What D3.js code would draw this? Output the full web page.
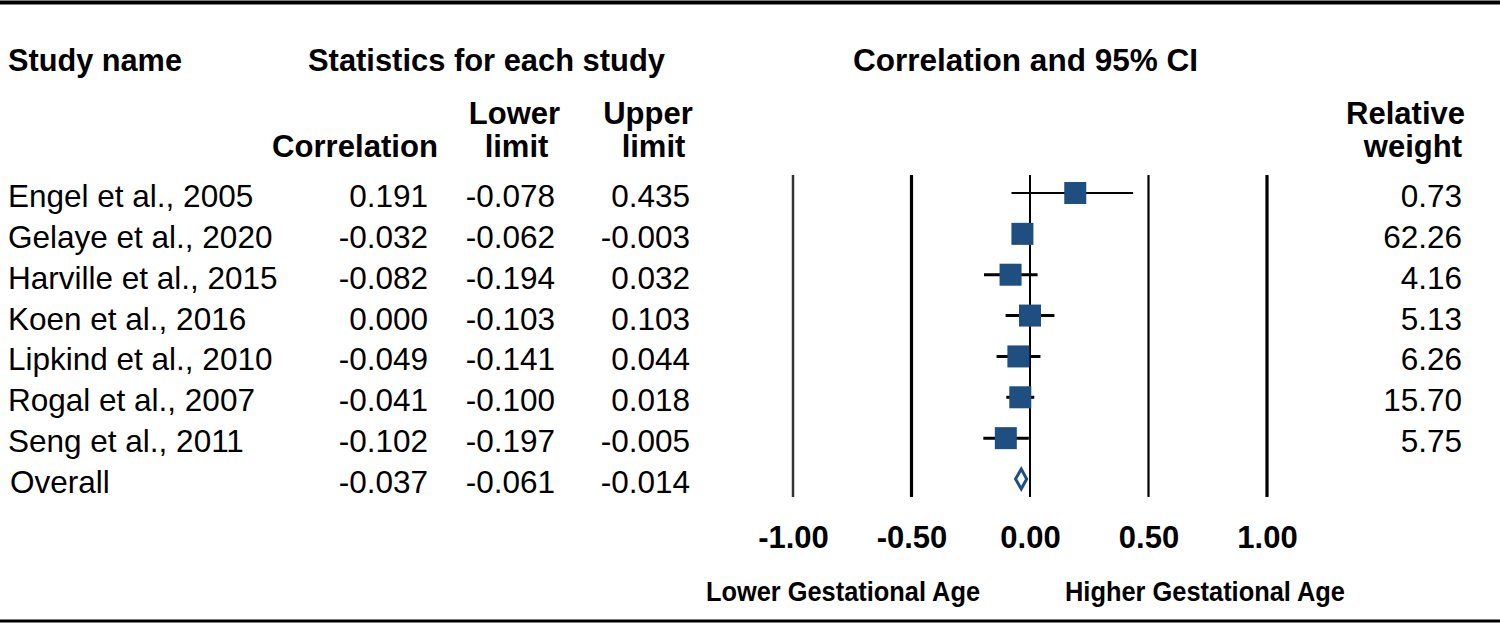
<!DOCTYPE html>
<html>
<head>
<meta charset="utf-8">
<script src="https://cdn.jsdelivr.net/npm/d3@7/dist/d3.min.js"></script>
<style>
  html, body { margin: 0; padding: 0; background: #fff; }
  svg { display: block; font-family: "Liberation Sans", Arial, sans-serif; }
</style>
</head>
<body>
<script>
// ---- Data ----
const studies = ["Engel et al., 2005", "Gelaye et al., 2020", "Harville et al., 2015", "Koen et al., 2016",
                 "Lipkind et al., 2010", "Rogal et al., 2007", "Seng et al., 2011"];
const correlation = [0.191, -0.032, -0.082, 0.000, -0.049, -0.041, -0.102];
const lowerLimit  = [-0.078, -0.062, -0.194, -0.103, -0.141, -0.100, -0.197];
const upperLimit  = [0.435, -0.003, 0.032, 0.103, 0.044, 0.018, -0.005];
const relWeight   = [0.73, 62.26, 4.16, 5.13, 6.26, 15.70, 5.75];
const overallLabel = "Overall";
const overallValues = [-0.037, -0.061, -0.014]; // correlation, lower, upper
const tickValues = [-1.00, -0.50, 0.00, 0.50, 1.00];
const axisLeftLabel = "Lower Gestational Age";
const axisRightLabel = "Higher Gestational Age";

// ---- Layout ----
const W = 1500, H = 625;
const svg = d3.select("body").append("svg").attr("width", W).attr("height", H);
const FS = 31.5;
const blue = "#1f4f80";

const x = d3.scaleLinear().domain([-1, 1]).range([793, 1267]);
const y = d3.scaleLinear().domain([0, 7]).range([193, 479]);

const hy = s => s.replace(/\u2212/g, "-");
const fmt3 = v => hy(d3.format(".3f")(v));
const fmt2 = v => hy(d3.format(".2f")(v));

// rules
svg.append("line").attr("x1", 0).attr("x2", W).attr("y1", 2.5).attr("y2", 2.5)
  .attr("stroke", "#000").attr("stroke-width", 4);
svg.append("line").attr("x1", 0).attr("x2", W).attr("y1", 621).attr("y2", 621)
  .attr("stroke", "#000").attr("stroke-width", 3);

// headers
function txt(t, xx, yy, opts = {}) {
  const el = svg.append("text").attr("x", xx).attr("y", yy).text(t)
    .attr("font-size", opts.size || FS)
    .attr("font-weight", opts.bold ? "bold" : "normal")
    .attr("text-anchor", opts.anchor || "start")
    .attr("fill", "#000");
  if (opts.len) el.attr("textLength", opts.len).attr("lengthAdjust", "spacingAndGlyphs");
  return el;
}
txt("Study name", 8, 71, {bold: true, size: 31, len: 174});
txt("Statistics for each study", 308, 71, {bold: true, size: 31, len: 357});
txt("Correlation and 95%  CI", 853, 71, {bold: true, size: 31, len: 345});
txt("Correlation", 272, 157, {bold: true, size: 31, len: 166});
txt("Lower", 514.5, 124, {bold: true, size: 31, anchor: "middle"});
txt("limit", 516.5, 157, {bold: true, size: 31, anchor: "middle"});
txt("Upper", 648, 124, {bold: true, size: 31, anchor: "middle"});
txt("limit", 653.5, 157, {bold: true, size: 31, anchor: "middle"});
txt("Relative", 1465, 124, {bold: true, size: 31, anchor: "end"});
txt("weight", 1462, 157, {bold: true, size: 31, anchor: "end"});

// rows
const rows = studies.map((s, i) => ({name: s, r: correlation[i], lo: lowerLimit[i], hi: upperLimit[i], w: relWeight[i], i}));

const rowG = svg.append("g").selectAll("g").data(rows).join("g");
rowG.append("text").attr("x", 8).attr("y", d => y(d.i) + 14).attr("font-size", FS).text(d => d.name);
rowG.append("text").attr("x", 428).attr("y", d => y(d.i) + 14).attr("font-size", FS).attr("text-anchor", "end").text(d => fmt3(d.r));
rowG.append("text").attr("x", 555).attr("y", d => y(d.i) + 14).attr("font-size", FS).attr("text-anchor", "end").text(d => fmt3(d.lo));
rowG.append("text").attr("x", 690).attr("y", d => y(d.i) + 14).attr("font-size", FS).attr("text-anchor", "end").text(d => fmt3(d.hi));
rowG.append("text").attr("x", 1462).attr("y", d => y(d.i) + 14).attr("font-size", FS).attr("text-anchor", "end").text(d => fmt2(d.w));

// overall row text
const oy = y(7) + 14;
txt(overallLabel, 10, oy);
txt(fmt3(overallValues[0]), 428, oy, {anchor: "end"});
txt(fmt3(overallValues[1]), 555, oy, {anchor: "end"});
txt(fmt3(overallValues[2]), 690, oy, {anchor: "end"});

// vertical reference lines
const lineW = [2.5, 3.2, 2, 2.2, 3.2];
const lineC = ["#333", "#000", "#000", "#000", "#000"];
svg.append("g").selectAll("line").data(tickValues).join("line")
  .attr("x1", d => x(d)).attr("x2", d => x(d))
  .attr("y1", 175).attr("y2", 497)
  .attr("stroke", (d, i) => lineC[i]).attr("stroke-width", (d, i) => lineW[i]);

// CI lines
svg.append("g").selectAll("line").data(rows).join("line")
  .attr("x1", d => x(d.lo)).attr("x2", d => x(d.hi))
  .attr("y1", d => y(d.i)).attr("y2", d => y(d.i))
  .attr("stroke", "#000").attr("stroke-width", (d, i) => i === 0 ? 2 : 3);

// squares
const S = 22;
svg.append("g").selectAll("rect").data(rows).join("rect")
  .attr("x", d => x(d.r) - S / 2).attr("y", d => y(d.i) - S / 2)
  .attr("width", S).attr("height", S).attr("fill", blue);

// diamond
const dy = y(7);
svg.append("path")
  .attr("d", `M${x(overallValues[1])},${dy} L${x(overallValues[0])},${dy - 10} L${x(overallValues[2])},${dy} L${x(overallValues[0])},${dy + 10} Z`)
  .attr("fill", "#fff").attr("stroke", blue).attr("stroke-width", 3).attr("stroke-linejoin", "miter");

// axis
const axis = d3.axisBottom(x).tickValues(tickValues).tickFormat(fmt2).tickSize(0).tickPadding(0);
const ag = svg.append("g").attr("transform", "translate(0,526)").call(axis);
ag.select(".domain").remove();
ag.selectAll("text").attr("font-size", 31).attr("font-weight", "bold")
  .attr("font-family", "\"Liberation Sans\", Arial, sans-serif").attr("fill", "#000");

// axis side labels
txt(axisLeftLabel, 706, 601, {bold: true, size: 27, len: 274});
txt(axisRightLabel, 1065, 601, {bold: true, size: 27, len: 280});
</script>
</body>
</html>
